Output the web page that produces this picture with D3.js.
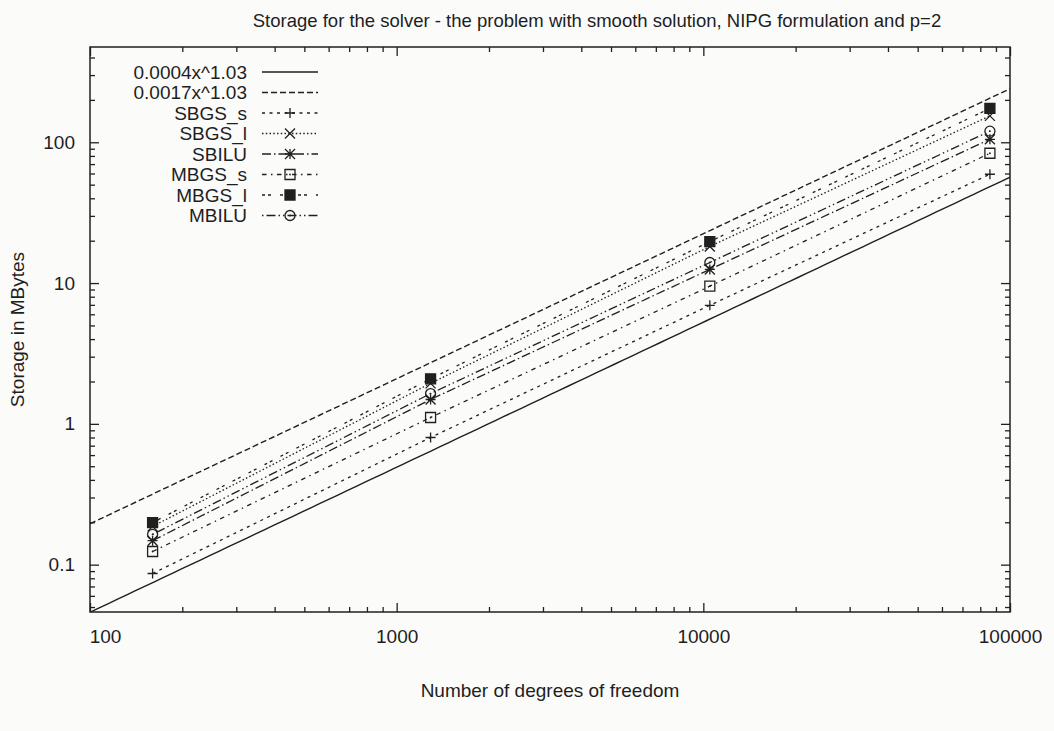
<!DOCTYPE html>
<html>
<head>
<meta charset="utf-8">
<script src="https://cdn.jsdelivr.net/npm/d3@7"></script>
<style>
body { margin: 0; background: #fbfbfa; }
text { font-family: "Liberation Sans", Arial, sans-serif; fill: #1e1e1e; }
</style>
</head>
<body>
<div id="chart"></div>
<script>
// data
const dofs = [160, 1290, 10500, 86000];
const sbgsS = [0.0865, 0.80, 6.95, 59.3];
const sbgsL = [0.187, 1.94, 18.2, 154];
const sbilu = [0.148, 1.49, 12.5, 105];
const mbgsS = [0.124, 1.11, 9.5, 83.6];
const mbgsL = [0.199, 2.09, 19.7, 174];
const mbilu = [0.164, 1.64, 14.0, 120];
const seriesNames = ["SBGS_s", "SBGS_l", "SBILU", "MBGS_s", "MBGS_l", "MBILU"];
const seriesValues = [sbgsS, sbgsL, sbilu, mbgsS, mbgsL, mbilu];
const fitLabels = ["0.0004x^1.03", "0.0017x^1.03"];
const fitCoef = [0.0004, 0.0017];
const fitPow = 1.03;
const xTicks = [100, 1000, 10000, 100000];
const yTicks = [0.1, 1, 10, 100];

const width = 1054, height = 731,
    margin = {left: 90, top: 47, right: 44, bottom: 119},
    contentWidth = width - margin.left - margin.right,
    contentHeight = height - margin.top - margin.bottom;

const ink = "#202020";
// gnuplot-like dash patterns, lt 0..7
const dashes = [null, "6,3", "3,4.5", "1.5,2.25", "9,3,1.5,3", "4.5,4.5,1.5,4.5", "3,3,3,9", "1.5,3,9,3,1.5,3"];

const svg = d3.select("#chart").append("svg").attr("width", width).attr("height", height);
const maing = svg.append("g").attr("transform", `translate(${margin.left}, ${margin.top})`);

const xScale = d3.scaleLog().domain([100, 100000]).range([0, contentWidth]);
const yScale = d3.scaleLog().domain([0.0461, 475]).range([contentHeight, 0]);

function minorTicks(lo, hi) {
    const out = [];
    for (let d = lo; d < hi; d *= 10)
        for (let k = 2; k <= 9; k++) out.push(d * k);
    return out;
}
const xMinor = minorTicks(100, 100000);
const yMinor = minorTicks(0.01, 1000).filter(v => v > 0.0461 && v < 475);

function styleAxis(g) {
    g.select(".domain").remove();
    g.selectAll("line").attr("stroke", ink).attr("stroke-width", 1.3);
    g.selectAll("text").attr("font-size", 19).attr("fill", "#1e1e1e")
        .attr("font-family", "'Liberation Sans', Arial, sans-serif");
}

// bottom / top
const xAxisG = maing.append("g").attr("transform", `translate(0, ${contentHeight})`)
    .call(d3.axisBottom(xScale).tickValues(xTicks).tickFormat(d3.format("d")).tickSize(-9).tickPadding(18))
    .call(styleAxis);
// first label sits a little right of the corner in the original
xAxisG.selectAll(".tick text").filter(d => d === 100).attr("dx", 15);
maing.append("g").attr("transform", `translate(0, ${contentHeight})`)
    .call(d3.axisBottom(xScale).tickValues(xMinor).tickFormat("").tickSize(-5)).call(styleAxis);
maing.append("g").call(d3.axisTop(xScale).tickValues(xTicks).tickFormat("").tickSize(-9)).call(styleAxis);
maing.append("g").call(d3.axisTop(xScale).tickValues(xMinor).tickFormat("").tickSize(-5)).call(styleAxis);

// left / right
maing.append("g")
    .call(d3.axisLeft(yScale).tickValues(yTicks).tickFormat(d => d3.format("")(d)).tickSize(-9).tickPadding(15))
    .call(styleAxis);
maing.append("g").call(d3.axisLeft(yScale).tickValues(yMinor).tickFormat("").tickSize(-5)).call(styleAxis);
maing.append("g").attr("transform", `translate(${contentWidth}, 0)`)
    .call(d3.axisRight(yScale).tickValues(yTicks).tickFormat("").tickSize(-9)).call(styleAxis);
maing.append("g").attr("transform", `translate(${contentWidth}, 0)`)
    .call(d3.axisRight(yScale).tickValues(yMinor).tickFormat("").tickSize(-5)).call(styleAxis);

maing.append("rect").attr("width", contentWidth).attr("height", contentHeight)
    .attr("fill", "none").attr("stroke", ink).attr("stroke-width", 1.5);

// markers, gnuplot point types 1..6
function markerPath(type, s) {
    const plus = `M${-s},0H${s}M0,${-s}V${s}`;
    const cross = `M${-s},${-s}L${s},${s}M${-s},${s}L${s},${-s}`;
    if (type === 1) return plus;
    if (type === 2) return cross;
    if (type === 3) return plus + cross;
    if (type === 4 || type === 5) return `M${-s},${-s}H${s}V${s}H${-s}Z`;
    return null;
}
function drawMarker(g, type, cx, cy) {
    const s = 5;
    const m = g.append("g").attr("transform", `translate(${cx},${cy})`);
    if (type === 6) {
        m.append("circle").attr("r", s).attr("fill", "none").attr("stroke", ink).attr("stroke-width", 1.3);
    } else {
        m.append("path").attr("d", markerPath(type, s))
            .attr("fill", type === 5 ? ink : "none").attr("stroke", ink).attr("stroke-width", 1.3);
    }
    if (type === 4 || type === 6) m.append("circle").attr("r", 0.9).attr("fill", ink);
}

const plotArea = maing.append("g");
svg.append("clipPath").attr("id", "clip")
    .append("rect").attr("width", contentWidth).attr("height", contentHeight);
plotArea.attr("clip-path", "url(#clip)");

const line = d3.line().x(d => xScale(d[0])).y(d => yScale(d[1]));

// fitted power laws
const xs = d3.range(0, 101).map(i => 100 * Math.pow(1000, i / 100));
fitCoef.forEach((c, i) => {
    plotArea.append("path").datum(xs.map(x => [x, c * Math.pow(x, fitPow)]))
        .attr("d", line).attr("fill", "none").attr("stroke", ink).attr("stroke-width", 1.4)
        .attr("stroke-dasharray", dashes[i]);
});

// measured series
seriesValues.forEach((vals, i) => {
    const pts = vals.map((v, j) => [dofs[j], v]);
    plotArea.append("path").datum(pts).attr("d", line).attr("fill", "none")
        .attr("stroke", ink).attr("stroke-width", 1.3).attr("stroke-dasharray", dashes[i + 2]);
    pts.forEach(p => drawMarker(plotArea, i + 1, xScale(p[0]), yScale(p[1])));
});

// legend
const legend = maing.append("g").attr("transform", "translate(0, 25)");
const legendNames = fitLabels.concat(seriesNames);
legendNames.forEach((name, i) => {
    const y = i * 20.5;
    legend.append("text").attr("x", 157).attr("y", y).attr("dy", "0.35em")
        .attr("text-anchor", "end").attr("font-size", 19).text(name);
    legend.append("line").attr("x1", 172).attr("x2", 228).attr("y1", y).attr("y2", y)
        .attr("stroke", ink).attr("stroke-width", 1.3).attr("stroke-dasharray", dashes[i]);
    if (i >= 2) drawMarker(legend, i - 1, 200, y);
});

// titles
svg.append("text").attr("x", 597).attr("y", 27).attr("text-anchor", "middle")
    .attr("font-size", 18.5).text("Storage for the solver - the problem with smooth solution, NIPG formulation and p=2");
svg.append("text").attr("x", margin.left + contentWidth / 2).attr("y", 697).attr("text-anchor", "middle")
    .attr("font-size", 19).text("Number of degrees of freedom");
svg.append("text").attr("transform", `translate(24, ${margin.top + contentHeight / 2}) rotate(-90)`)
    .attr("text-anchor", "middle").attr("font-size", 19).text("Storage in MBytes");
</script>
</body>
</html>
